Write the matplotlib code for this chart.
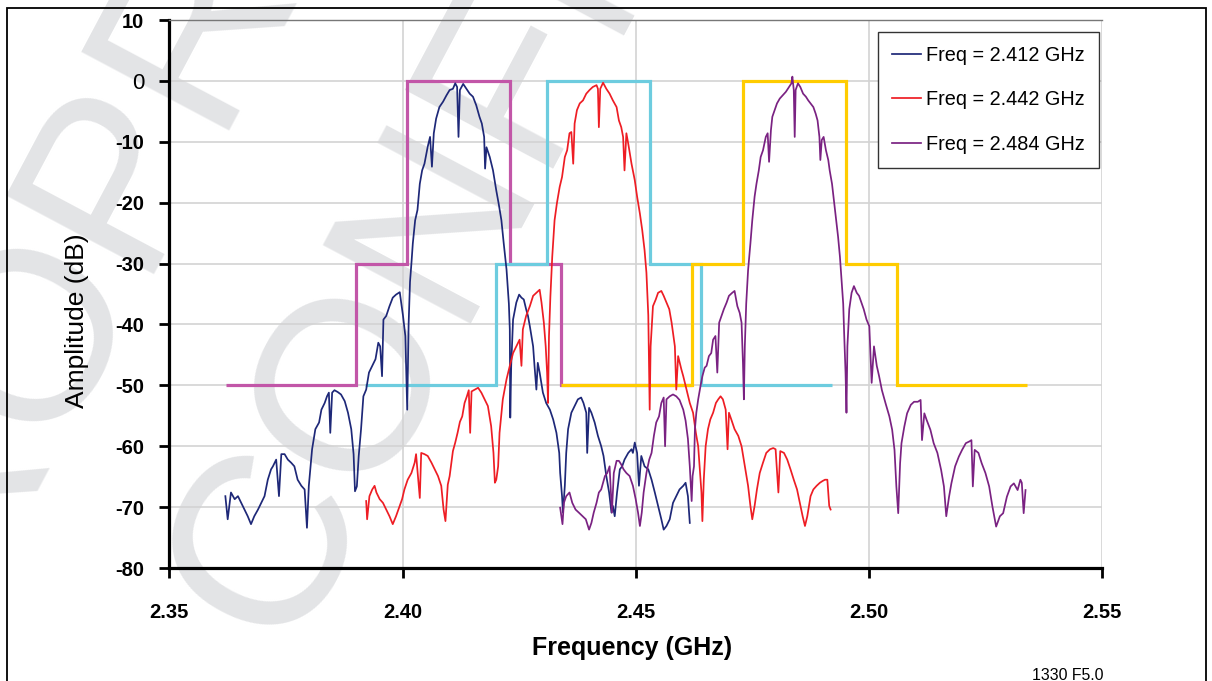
import matplotlib
matplotlib.use("Agg")
import matplotlib.pyplot as plt
from matplotlib.patches import Rectangle

plt.rcParams['font.family'] = ['Liberation Sans', 'DejaVu Sans']

# ---------------- data ----------------
blue_f = [2.3620, 2.3625, 2.3632, 2.3640, 2.3647, 2.3654, 2.3661, 2.3668, 2.3675, 2.3682,
          2.3690, 2.3697, 2.3704, 2.3711, 2.3718, 2.3722, 2.3729, 2.3735, 2.3740, 2.3747,
          2.3754, 2.3761, 2.3768, 2.3775, 2.3783, 2.3790, 2.3795, 2.3799, 2.3806, 2.3813,
          2.3821, 2.3826, 2.3833, 2.3838, 2.3842, 2.3845, 2.3849, 2.3854, 2.3861, 2.3868,
          2.3876, 2.3883, 2.3890, 2.3895, 2.3898, 2.3902, 2.3906, 2.3911, 2.3916, 2.3922,
          2.3928, 2.3935, 2.3942, 2.3948, 2.3952, 2.3956, 2.3959, 2.3965, 2.3972, 2.3979,
          2.3986, 2.3994, 2.3997, 2.4001, 2.4006, 2.4010, 2.4013, 2.4016, 2.4019, 2.4022,
          2.4027, 2.4032, 2.4037, 2.4042, 2.4047, 2.4054, 2.4059, 2.4063, 2.4067, 2.4072,
          2.4079, 2.4087, 2.4094, 2.4101, 2.4108, 2.4113, 2.4117, 2.4120, 2.4123, 2.4130,
          2.4137, 2.4144, 2.4151, 2.4158, 2.4165, 2.4170, 2.4175, 2.4177, 2.4180, 2.4187,
          2.4194, 2.4201, 2.4206, 2.4212, 2.4217, 2.4223, 2.4228, 2.4230, 2.4231, 2.4233,
          2.4237, 2.4244, 2.4250, 2.4255, 2.4260, 2.4265, 2.4269, 2.4273, 2.4280, 2.4283,
          2.4287, 2.4290, 2.4294, 2.4301, 2.4308, 2.4316, 2.4323, 2.4330, 2.4336, 2.4338,
          2.4342, 2.4344, 2.4348, 2.4351, 2.4355, 2.4362, 2.4369, 2.4376, 2.4383, 2.4388,
          2.4394, 2.4396, 2.4400, 2.4405, 2.4412, 2.4419, 2.4426, 2.4431, 2.4437, 2.4443,
          2.4448, 2.4451, 2.4455, 2.4460, 2.4466, 2.4471, 2.4476, 2.4484, 2.4491, 2.4494,
          2.4498, 2.4503, 2.4507, 2.4512, 2.4519, 2.4527, 2.4534, 2.4541, 2.4548, 2.4555,
          2.4560, 2.4566, 2.4573, 2.4580, 2.4587, 2.4594, 2.4602, 2.4607, 2.4612, 2.4616]
blue_db = [-68.2, -72.0, -67.6, -68.7, -68.2, -69.3, -70.4, -71.5, -72.8, -71.5,
           -70.4, -69.3, -68.2, -65.5, -63.8, -63.3, -62.2, -68.2, -61.3, -61.3,
           -62.2, -62.7, -63.3, -65.5, -66.5, -67.1, -73.4, -66.5, -60.5, -57.2,
           -56.1, -54.0, -52.9, -51.8, -51.2, -57.8, -51.2, -50.8, -51.1, -51.5,
           -52.6, -54.5, -57.2, -61.3, -67.4, -66.6, -61.6, -57.2, -51.8, -50.7,
           -47.9, -46.8, -45.7, -43.0, -43.6, -48.5, -39.2, -38.6, -37.0, -35.6,
           -35.1, -34.7, -36.4, -38.6, -41.9, -54.0, -40.0, -33.0, -30.0, -26.7,
           -22.9, -21.2, -16.9, -14.7, -13.6, -10.8, -9.2, -14.1, -8.6, -6.2,
           -4.3, -3.4, -2.4, -1.5, -1.3, -0.4, -1.0, -9.2, -1.5, -0.5,
           -1.3, -2.1, -2.6, -4.0, -5.9, -7.0, -9.2, -14.4, -10.9, -12.5,
           -14.7, -18.0, -20.1, -22.9, -26.7, -31.0, -36.6, -40.8, -55.3, -46.8,
           -39.2, -36.4, -35.1, -35.6, -35.9, -37.5, -38.6, -40.3, -43.6, -46.8,
           -50.7, -46.3, -47.9, -51.2, -52.9, -54.0, -55.6, -57.8, -61.1, -64.4,
           -68.2, -70.9, -66.5, -61.1, -57.2, -54.5, -53.4, -52.3, -52.0, -52.9,
           -54.5, -61.1, -53.7, -54.5, -56.1, -58.3, -60.0, -61.6, -64.9, -67.6,
           -70.9, -69.8, -71.5, -67.6, -63.8, -63.3, -62.2, -61.1, -60.5, -61.1,
           -59.4, -61.1, -66.5, -61.6, -63.3, -63.8, -65.5, -67.6, -69.8, -72.0,
           -73.7, -73.1, -72.0, -69.3, -68.2, -67.1, -66.5, -66.0, -68.2, -72.6]

red_f = [2.3922, 2.3924, 2.3929, 2.3935, 2.3940, 2.3944, 2.3951, 2.3958, 2.3965, 2.3972,
         2.3979, 2.3986, 2.3994, 2.3999, 2.4004, 2.4011, 2.4019, 2.4026, 2.4029, 2.4037,
         2.4040, 2.4047, 2.4054, 2.4062, 2.4069, 2.4076, 2.4083, 2.4088, 2.4092, 2.4097,
         2.4101, 2.4108, 2.4113, 2.4118, 2.4123, 2.4128, 2.4133, 2.4138, 2.4142, 2.4145,
         2.4148, 2.4155, 2.4162, 2.4169, 2.4176, 2.4183, 2.4190, 2.4195, 2.4198, 2.4201,
         2.4205, 2.4208, 2.4215, 2.4223, 2.4230, 2.4237, 2.4244, 2.4251, 2.4255, 2.4258,
         2.4265, 2.4273, 2.4280, 2.4287, 2.4294, 2.4298, 2.4303, 2.4307, 2.4310, 2.4312,
         2.4314, 2.4317, 2.4321, 2.4326, 2.4331, 2.4337, 2.4342, 2.4348, 2.4353, 2.4358,
         2.4362, 2.4366, 2.4369, 2.4374, 2.4380, 2.4387, 2.4394, 2.4401, 2.4408, 2.4416,
         2.4419, 2.4421, 2.4424, 2.4430, 2.4437, 2.4444, 2.4451, 2.4459, 2.4464, 2.4469,
         2.4473, 2.4476, 2.4480, 2.4484, 2.4491, 2.4498, 2.4503, 2.4509, 2.4514, 2.4519,
         2.4523, 2.4527, 2.4530, 2.4532, 2.4537, 2.4543, 2.4548, 2.4555, 2.4560, 2.4566,
         2.4572, 2.4577, 2.4584, 2.4587, 2.4591, 2.4598, 2.4602, 2.4609, 2.4616, 2.4623,
         2.4629, 2.4634, 2.4637, 2.4641, 2.4643, 2.4646, 2.4650, 2.4655, 2.4660, 2.4666,
         2.4672, 2.4677, 2.4682, 2.4687, 2.4693, 2.4697, 2.4700, 2.4705, 2.4712, 2.4720,
         2.4727, 2.4734, 2.4741, 2.4746, 2.4750, 2.4755, 2.4760, 2.4766, 2.4773, 2.4780,
         2.4788, 2.4795, 2.4800, 2.4806, 2.4810, 2.4818, 2.4825, 2.4832, 2.4839, 2.4846,
         2.4852, 2.4858, 2.4863, 2.4868, 2.4875, 2.4881, 2.4888, 2.4895, 2.4901, 2.4906,
         2.4911, 2.4915, 2.4918]
red_db = [-69.0, -72.0, -68.2, -67.1, -66.5, -67.6, -68.7, -69.3, -70.4, -71.5,
          -72.8, -71.5, -69.8, -68.7, -67.1, -65.5, -64.4, -62.7, -61.3, -68.5,
          -61.1, -61.3, -61.6, -62.7, -63.8, -64.9, -66.5, -70.4, -72.3, -66.3,
          -64.9, -60.8, -59.4, -57.8, -56.0, -55.1, -52.9, -51.8, -50.8, -57.8,
          -51.0, -50.7, -50.4, -51.2, -52.3, -53.4, -56.7, -61.1, -66.0, -65.5,
          -63.3, -57.8, -52.3, -49.0, -46.8, -44.7, -43.6, -42.5, -46.8, -40.8,
          -38.6, -37.0, -35.3, -34.8, -34.3, -36.4, -39.7, -43.6, -47.9, -52.9,
          -42.0, -35.5, -28.9, -22.9, -20.1, -17.4, -15.8, -12.5, -11.4, -8.6,
          -8.4, -13.6, -7.0, -4.8, -3.7, -3.2, -2.1, -1.5, -1.0, -0.7,
          -1.3, -7.6, -1.3, -0.3, -1.3, -2.1, -3.2, -4.3, -6.5, -7.6,
          -9.2, -14.7, -8.6, -10.3, -13.6, -16.3, -19.0, -21.8, -24.5, -27.8,
          -31.5, -38.5, -54.0, -43.6, -37.0, -35.9, -34.8, -34.5, -35.3, -36.4,
          -37.5, -39.7, -43.6, -50.7, -45.2, -47.4, -48.5, -50.7, -52.9, -54.5,
          -57.8, -60.0, -63.3, -67.6, -72.3, -65.5, -60.0, -57.2, -55.6, -54.5,
          -52.9, -52.3, -51.8, -52.3, -54.0, -60.5, -54.5, -55.6, -57.2, -58.3,
          -60.0, -63.3, -66.5, -69.8, -72.0, -69.8, -67.1, -64.4, -62.7, -61.1,
          -60.5, -60.3, -60.5, -67.6, -60.8, -61.1, -62.2, -63.8, -65.5, -67.1,
          -69.3, -71.5, -73.1, -71.5, -68.2, -67.1, -66.5, -66.0, -65.7, -65.5,
          -65.5, -69.8, -70.4]

purple_f = [2.4338, 2.4343, 2.4346, 2.4351, 2.4358, 2.4364, 2.4371, 2.4378, 2.4386, 2.4393,
            2.4400, 2.4405, 2.4410, 2.4416, 2.4421, 2.4426, 2.4434, 2.4439, 2.4444, 2.4449,
            2.4453, 2.4459, 2.4464, 2.4469, 2.4474, 2.4480, 2.4487, 2.4494, 2.4500, 2.4505,
            2.4509, 2.4513, 2.4517, 2.4523, 2.4529, 2.4534, 2.4539, 2.4544, 2.4550, 2.4555,
            2.4560, 2.4563, 2.4566, 2.4573, 2.4580, 2.4587, 2.4594, 2.4602, 2.4607, 2.4612,
            2.4616, 2.4620, 2.4622, 2.4625, 2.4627, 2.4630, 2.4634, 2.4639, 2.4643, 2.4648,
            2.4652, 2.4657, 2.4662, 2.4666, 2.4671, 2.4675, 2.4679, 2.4684, 2.4689, 2.4695,
            2.4700, 2.4707, 2.4712, 2.4718, 2.4723, 2.4727, 2.4730, 2.4732, 2.4734, 2.4737,
            2.4741, 2.4746, 2.4750, 2.4755, 2.4759, 2.4764, 2.4768, 2.4773, 2.4779, 2.4783,
            2.4786, 2.4790, 2.4793, 2.4798, 2.4803, 2.4809, 2.4815, 2.4822, 2.4829, 2.4834,
            2.4836, 2.4839, 2.4841, 2.4843, 2.4848, 2.4853, 2.4859, 2.4865, 2.4870, 2.4875,
            2.4881, 2.4886, 2.4890, 2.4894, 2.4896, 2.4899, 2.4903, 2.4908, 2.4913, 2.4916,
            2.4921, 2.4925, 2.4929, 2.4934, 2.4938, 2.4941, 2.4945, 2.4947, 2.4950, 2.4952,
            2.4954, 2.4958, 2.4963, 2.4968, 2.4974, 2.4979, 2.4984, 2.4989, 2.4995, 2.5001,
            2.5006, 2.5011, 2.5017, 2.5022, 2.5028, 2.5036, 2.5044, 2.5050, 2.5055, 2.5059,
            2.5063, 2.5067, 2.5070, 2.5076, 2.5082, 2.5090, 2.5097, 2.5105, 2.5111, 2.5114,
            2.5119, 2.5124, 2.5132, 2.5139, 2.5147, 2.5155, 2.5161, 2.5166, 2.5172, 2.5177,
            2.5185, 2.5193, 2.5200, 2.5208, 2.5216, 2.5220, 2.5223, 2.5227, 2.5235, 2.5242,
            2.5250, 2.5258, 2.5265, 2.5273, 2.5281, 2.5288, 2.5296, 2.5304, 2.5311, 2.5319,
            2.5325, 2.5328, 2.5332, 2.5336]
purple_db = [-70.1, -72.8, -69.3, -68.2, -67.6, -69.3, -70.4, -70.9, -71.5, -72.0,
             -73.7, -72.6, -70.9, -69.3, -67.6, -67.1, -64.9, -64.4, -63.3, -70.9,
             -64.4, -62.4, -62.4, -63.0, -63.8, -64.4, -64.9, -66.5, -68.7, -70.9,
             -73.1, -70.9, -67.6, -64.4, -62.2, -61.1, -58.3, -56.1, -55.1, -52.9,
             -52.0, -60.0, -52.3, -51.8, -51.5, -51.8, -52.4, -54.0, -55.8, -58.8,
             -63.3, -69.0, -64.9, -63.3, -57.2, -54.5, -52.3, -50.1, -48.5, -47.1,
             -46.8, -45.2, -44.7, -42.5, -41.9, -47.9, -39.7, -38.6, -37.5, -36.4,
             -35.3, -34.8, -34.5, -37.0, -38.1, -39.7, -46.3, -52.3, -43.6, -36.6,
             -31.1, -26.7, -22.9, -19.0, -16.9, -14.7, -12.5, -11.4, -9.2, -8.6,
             -13.3, -8.1, -5.9, -4.8, -3.7, -2.9, -2.4, -1.8, -1.0, -0.4,
             0.7, -1.5, -9.2, -1.5, -0.4, -1.0, -2.1, -2.6, -3.2, -3.7,
             -4.3, -5.4, -6.5, -9.2, -13.0, -9.7, -9.2, -11.4, -13.0, -14.7,
             -16.9, -19.6, -22.3, -25.6, -28.9, -32.2, -36.6, -41.4, -47.9, -54.5,
             -43.6, -37.5, -34.8, -33.7, -34.8, -35.3, -36.4, -37.5, -39.2, -40.3,
             -49.6, -43.6, -46.8, -48.5, -50.8, -53.0, -55.1, -57.3, -60.6, -66.6,
             -71.0, -62.8, -59.5, -56.8, -54.6, -53.2, -52.7, -52.7, -52.4, -59.0,
             -54.6, -55.7, -57.3, -59.5, -61.1, -63.9, -66.6, -71.5, -68.3, -66.1,
             -63.3, -61.7, -60.6, -59.5, -59.2, -59.0, -66.6, -60.6, -61.1, -62.8,
             -64.4, -66.6, -69.9, -73.2, -71.5, -71.0, -68.3, -66.6, -66.1, -67.2,
             -65.5, -66.0, -71.0, -67.2]

# spectral masks (edges in GHz, levels in dB)
mask_levels = [-50, -30, 0, -30, -50]
mask_2412_edges = [2.3622, 2.390, 2.401, 2.423, 2.434, 2.462]
mask_2442_edges = [2.392, 2.420, 2.431, 2.453, 2.464, 2.492]
mask_2484_edges = [2.434, 2.462, 2.473, 2.495, 2.506, 2.534]

series_labels = ['Freq = 2.412 GHz', 'Freq = 2.442 GHz', 'Freq = 2.484 GHz']
x_ticks = [2.35, 2.40, 2.45, 2.50, 2.55]
x_tick_labels = ['2.35', '2.40', '2.45', '2.50', '2.55']
y_ticks = [-80, -70, -60, -50, -40, -30, -20, -10, 0, 10]
y_tick_labels = ['-80', '-70', '-60', '-50', '-40', '-30', '-20', '-10', '0', '10']
watermark_lines = ['PROPRIETARY', 'CONFIDENTIAL']

# ---------------- figure ----------------
W, H = 1212, 681
fig = plt.figure(figsize=(W / 100, H / 100), dpi=100)

# watermark (behind everything)
wm_color = '#E3E4E6'
fig.text(-113 / W, -57 / H, watermark_lines[0], fontsize=175, rotation=62,
         rotation_mode='anchor', ha='left', va='baseline', color=wm_color, zorder=-5)
fig.text(285 / W, 30 / H, watermark_lines[1], fontsize=175, rotation=62,
         rotation_mode='anchor', ha='left', va='baseline', color=wm_color, zorder=-5)

ax_left, ax_right, ax_top, ax_bottom = 169.4, 1102.0, 20.0, 568.0
ax = fig.add_axes([ax_left / W, 1 - ax_bottom / H, (ax_right - ax_left) / W,
                   (ax_bottom - ax_top) / H])
ax.set_facecolor('none')

# masks
ax.stairs(mask_levels, mask_2412_edges, baseline=None, color='#C256A8', lw=2.3, zorder=2)
ax.stairs(mask_levels, mask_2442_edges, baseline=None, color='#6DCCDF', lw=2.3, zorder=2.1)
ax.stairs(mask_levels, mask_2484_edges, baseline=None, color='#FFCC00', lw=2.3, zorder=2.2)

# spectra
l1, = ax.plot(blue_f, blue_db, color='#1E2878', lw=1.25, zorder=3, label=series_labels[0])
l2, = ax.plot(red_f, red_db, color='#EE1D24', lw=1.25, zorder=3, label=series_labels[1])
l3, = ax.plot(purple_f, purple_db, color='#7A2282', lw=1.25, zorder=3, label=series_labels[2])

ax.set_xlim(2.35, 2.55)
ax.set_ylim(-80, 10)
ax.set_xticks(x_ticks, labels=x_tick_labels)
ax.set_yticks(y_ticks, labels=y_tick_labels)
ax.grid(True, color='#D3D3D3', lw=1.2)
ax.set_axisbelow(True)

for s in ['left', 'bottom']:
    ax.spines[s].set_color('black')
    ax.spines[s].set_linewidth(2.3)
ax.spines['top'].set_color('#777777')
ax.spines['top'].set_linewidth(1.0)
ax.spines['right'].set_visible(False)

ax.tick_params(axis='y', direction='out', length=7, width=2, pad=11, labelsize=14.5)
ax.tick_params(axis='x', direction='out', length=7, width=2, pad=18, labelsize=14.5)
for lbl in ax.get_xticklabels():
    lbl.set_fontweight('bold')
for lbl in ax.get_yticklabels():
    if lbl.get_text() == '0':
        lbl.set_fontweight('normal')
        lbl.set_fontsize(16)
    else:
        lbl.set_fontweight('bold')

fig.text(77 / W, 1 - 321 / H, 'Amplitude (dB)', rotation=90, ha='center', va='center',
         fontsize=19)
fig.text(632 / W, 1 - 648 / H, 'Frequency (GHz)', ha='center', va='center',
         fontsize=18, fontweight='bold')
fig.text(1104 / W, 1 - 675 / H, '1330 F5.0', ha='right', va='center', fontsize=11.4)

leg = ax.legend(handles=[l1, l2, l3], loc='upper right', bbox_to_anchor=(0.9968, 0.978),
                borderaxespad=0, fontsize=14.3, frameon=True, fancybox=False,
                edgecolor='#333333', framealpha=1, borderpad=0.7, labelspacing=1.28,
                handlelength=1.5, handletextpad=0.25)
leg.get_frame().set_linewidth(1.0)
leg.set_zorder(10)

# outer frame
fig.add_artist(Rectangle((7 / W, -0.05), (1206 - 7) / W, (H - 8) / H + 0.05,
                         transform=fig.transFigure, fill=False, lw=1.3, ec='black'))

fig.savefig('out.png', dpi=100)
